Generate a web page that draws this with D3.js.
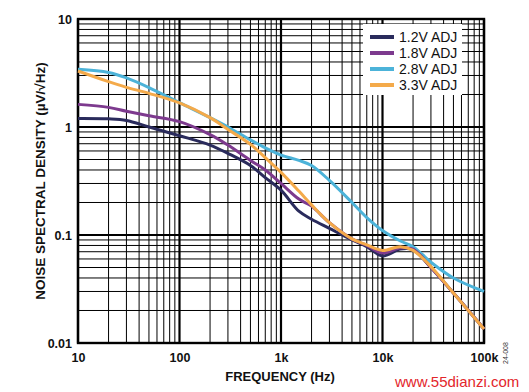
<!DOCTYPE html>
<head>
  <meta charset="utf-8">
  <script src="https://d3js.org/d3.v7.min.js"></script>
  <style>
    body { margin:0; background:#fff; }
    text { font-family: Arial, "Liberation Sans", sans-serif; }
  </style>
</head>
<body>
<script>
// frequencies (Hz) shared by all curves
const freq = [10, 20, 30, 50, 100, 200, 300, 500, 700, 1000, 1500, 2000, 3000, 5000, 7000,
              10000, 15000, 20000, 30000, 50000, 100000];
// noise spectral density, uV/rtHz
const adj12 = [1.2, 1.19, 1.15, 1.0, 0.83, 0.68, 0.57, 0.44, 0.34, 0.26, 0.166, 0.14, 0.115, 0.09, 0.078,
               0.064, 0.074, 0.073, 0.05, 0.029, 0.0135];
const adj18 = [1.62, 1.52, 1.4, 1.27, 1.12, 0.85, 0.68, 0.49, 0.4, 0.3, 0.215, 0.185, 0.13, 0.092, 0.08,
               0.068, 0.076, 0.074, 0.05, 0.029, 0.0135];
const adj28 = [3.42, 3.2, 2.85, 2.32, 1.68, 1.22, 1.0, 0.76, 0.64, 0.55, 0.49, 0.44, 0.32, 0.2, 0.145,
               0.11, 0.088, 0.078, 0.056, 0.04, 0.03];
const adj33 = [3.3, 2.63, 2.33, 2.05, 1.67, 1.22, 0.95, 0.69, 0.52, 0.38, 0.255, 0.19, 0.13, 0.092, 0.081,
               0.072, 0.078, 0.072, 0.051, 0.029, 0.0135];

const names = ["1.2V ADJ", "1.8V ADJ", "2.8V ADJ", "3.3V ADJ"];
const colors = ["#2a2b5c", "#7d3a8e", "#4cb3d9", "#f4aa4a"];
const series = [adj12, adj18, adj28, adj33];

const xLabels = ["10", "100", "1k", "10k", "100k"];
const yLabels = ["0.01", "0.1", "1", "10"];

const W = 529, H = 392;
const svg = d3.select("body").append("svg").attr("width", W).attr("height", H);

const x = d3.scaleLog().domain([10, 100000]).range([78, 484]);
const y = d3.scaleLog().domain([0.01, 10]).range([343, 19]);

const isDecade = v => Math.abs(Math.log10(v) - Math.round(Math.log10(v))) < 1e-9;

// grid
const grid = svg.append("g");
grid.selectAll("line.vx").data(x.ticks()).enter().append("line")
  .attr("x1", d => x(d)).attr("x2", d => x(d))
  .attr("y1", y.range()[0]).attr("y2", y.range()[1])
  .attr("stroke", "#000").attr("stroke-width", d => isDecade(d) ? 2.2 : 1);
grid.selectAll("line.hy").data(y.ticks()).enter().append("line")
  .attr("y1", d => y(d)).attr("y2", d => y(d))
  .attr("x1", x.range()[0]).attr("x2", x.range()[1])
  .attr("stroke", "#000").attr("stroke-width", d => isDecade(d) ? 2.2 : 1);

svg.append("rect")
  .attr("x", 78).attr("y", 19).attr("width", 406).attr("height", 324)
  .attr("fill", "none").attr("stroke", "#000").attr("stroke-width", 2.4);

// legend box
const leg = svg.append("g");
leg.append("rect").attr("x", 363).attr("y", 24).attr("width", 99).attr("height", 71).attr("fill", "#fff");
names.forEach((n, i) => {
  const ly = 37 + i * 16;
  leg.append("line").attr("x1", 370).attr("x2", 394).attr("y1", ly).attr("y2", ly)
    .attr("stroke", colors[i]).attr("stroke-width", 4);
  leg.append("text").attr("x", 399).attr("y", ly + 5).text(n)
    .attr("font-size", 14).attr("fill", "#111");
});

// curves
const line = d3.line()
  .x((d, i) => x(freq[i]))
  .y(d => y(d))
  .curve(d3.curveCatmullRom.alpha(0.5));
[2, 0, 1, 3].forEach(i => {
  svg.append("path").attr("d", line(series[i]))
    .attr("fill", "none").attr("stroke", colors[i]).attr("stroke-width", 3)
    .attr("stroke-linejoin", "round");
});

// axes
const xAxis = svg.append("g").attr("transform", "translate(0,343)")
  .call(d3.axisBottom(x).tickValues([10, 100, 1000, 10000, 100000])
    .tickFormat((d, i) => xLabels[i]).tickSize(0).tickPadding(10));
const yAxis = svg.append("g").attr("transform", "translate(78,0)")
  .call(d3.axisLeft(y).tickValues([0.01, 0.1, 1, 10])
    .tickFormat((d, i) => yLabels[i]).tickSize(0).tickPadding(6));
[xAxis, yAxis].forEach(a => {
  a.select(".domain").remove();
  a.selectAll("text").attr("font-size", 12.5).attr("font-weight", "bold")
    .attr("fill", "#111").attr("font-family", "Arial, 'Liberation Sans', sans-serif");
});

svg.append("text").attr("x", 280).attr("y", 381).attr("text-anchor", "middle")
  .attr("font-size", 13).attr("font-weight", "bold").attr("fill", "#111")
  .text("FREQUENCY (Hz)");
svg.append("text").attr("transform", "translate(45,181) rotate(-90)")
  .attr("text-anchor", "middle").attr("font-size", 13.5).attr("font-weight", "bold").attr("fill", "#111")
  .text("NOISE SPECTRAL DENSITY (µV/√Hz)");

svg.append("text").attr("transform", "translate(508,353) rotate(-90)")
  .attr("text-anchor", "middle").attr("font-size", 7).attr("fill", "#333")
  .text("24-008");

svg.append("text").attr("x", 395).attr("y", 387)
  .attr("font-size", 15).attr("fill", "#e3262b")
  .text("www.55dianzi.com");
</script>
</body>
